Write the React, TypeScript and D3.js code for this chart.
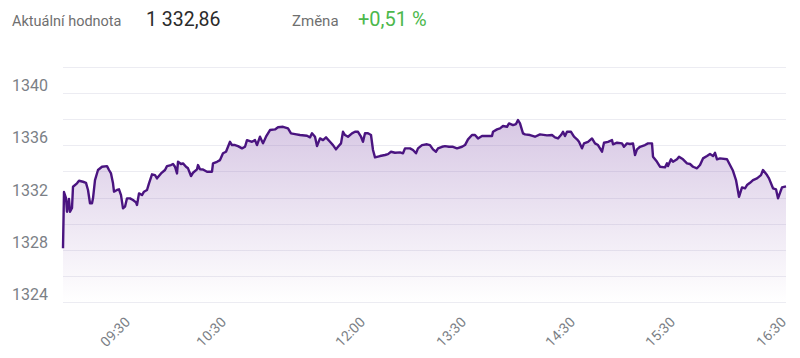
import React from "react";
import * as d3 from "d3";

// sequence index of trade sample (0..723) and index value
const seq: number[] = [
  0, 1, 3, 4, 6, 7, 9, 10, 14, 16, 20, 23, 25, 27, 29, 30, 32, 35, 39, 44, 46, 48, 50, 51, 54, 56, 58, 60, 62, 64, 67, 70, 73, 74, 76, 79, 81, 84, 86, 89, 92, 94, 98, 102, 104, 108, 110, 112, 114, 115, 118, 120, 123, 125, 128, 130, 134, 135, 137,
  140, 144, 149, 150, 154, 157, 160, 163, 167, 169, 172, 175, 179, 182, 184, 189, 192, 194, 197, 200, 203, 207, 212, 215, 220, 225, 228, 232, 237, 244, 247, 249, 252, 254, 257, 260, 263, 267, 270, 273, 275, 278, 280, 282, 285, 289, 292, 295, 298, 300, 302, 305, 308, 310, 312, 317, 322, 325, 328, 332, 337, 340, 342, 347, 350, 353, 355, 359, 364, 367, 370, 373, 375, 379, 382, 386, 390, 394, 399, 402, 405, 409, 412, 415, 419,
  429, 430, 434, 437, 440, 444, 446, 450, 453, 455, 457, 460, 462, 467, 472, 477, 484, 489, 492, 495, 498, 500, 502, 504, 508, 511, 514, 516, 519, 521, 525, 529, 532, 535, 539, 541, 545, 549, 550, 554, 559, 561, 564, 567, 570, 572, 574, 577, 582, 585, 589, 590, 594, 597, 602, 604, 605, 608, 610, 614, 616, 620, 624, 627, 630, 634, 637, 640, 644, 647, 650, 652, 654, 657, 664, 667, 670, 673, 676, 679, 682, 684, 687, 690, 694, 698, 700, 704, 706, 710, 713, 715, 719, 723,
];
const values: number[] = [
  1328.11, 1332.42, 1331.96, 1330.91, 1331.89, 1330.91, 1331.2, 1332.83, 1333.09, 1333.29, 1333.21, 1333.13, 1332.58, 1331.56, 1331.56, 1331.94, 1333.34, 1334.11, 1334.36, 1334.41, 1334.11, 1333.85, 1333.09, 1332.45, 1332.58, 1332.63, 1332.19, 1331.17, 1331.3, 1331.94, 1331.94, 1331.81, 1331.63, 1331.43, 1332.32, 1332.19, 1332.45, 1332.58, 1333.09, 1333.78, 1333.72, 1333.47, 1333.85, 1334.11, 1334.41, 1334.49, 1334.57, 1334.36, 1333.85, 1334.74, 1334.57, 1334.62, 1334.36, 1334.24, 1333.65, 1333.9, 1334.16, 1334.49, 1334.16,
  1334.15, 1333.98, 1333.98, 1334.62, 1334.74, 1334.87, 1335.39, 1335.51, 1336.27, 1336.02, 1336.02, 1335.94, 1335.77, 1335.89, 1336.4, 1336.27, 1336.4, 1336.02, 1336.66, 1336.15, 1336.66, 1337.17, 1337.22, 1337.38, 1337.42, 1337.3, 1336.92, 1336.86, 1336.79, 1336.73, 1336.61, 1336.92, 1336.66, 1335.94, 1336.53, 1336.4, 1336.61, 1336.27, 1336.02, 1335.69, 1335.89, 1336.15, 1337.04, 1336.79, 1336.66, 1336.92, 1337.04, 1337.04, 1336.66, 1336.27, 1336.92, 1336.92, 1336.79, 1335.64, 1335.08, 1335.18, 1335.26, 1335.33, 1335.51, 1335.43, 1335.46, 1335.39, 1335.77, 1335.77, 1335.64, 1335.39, 1335.77, 1336.02, 1336.08, 1336.02, 1335.69, 1335.51, 1335.77, 1335.89, 1335.94, 1335.89, 1335.89, 1335.77, 1335.89, 1336.02, 1336.46, 1336.79, 1336.79, 1336.53, 1336.71,
  1336.71, 1337.04, 1337.22, 1337.3, 1337.48, 1337.42, 1337.68, 1337.55, 1337.63, 1337.94, 1337.68, 1336.92, 1336.84, 1336.79, 1336.66, 1336.84, 1336.76, 1336.79, 1336.61, 1336.53, 1336.79, 1337.04, 1336.71, 1337.04, 1337.04, 1336.66, 1336.46, 1336.27, 1335.77, 1336.15, 1336.27, 1336.53, 1336.15, 1336.02, 1335.51, 1336.2, 1336.27, 1336.4, 1336.08, 1336.2, 1336.15, 1335.89, 1336.15, 1336.1, 1336.15, 1335.26, 1335.69, 1335.89, 1336.02, 1336.15, 1336.15, 1335.13, 1334.74, 1334.36, 1334.31, 1334.62, 1334.41, 1334.93, 1334.74, 1334.93, 1335.13, 1334.93, 1334.62, 1334.57, 1334.36, 1334.24, 1334.49, 1335.0, 1335.18, 1335.33, 1335.18, 1335.43, 1334.93, 1335.0, 1334.93, 1334.49, 1334.05, 1333.34, 1332.06, 1332.78, 1332.71, 1332.96, 1333.13, 1333.34, 1333.47, 1333.72, 1334.11, 1333.72, 1333.47, 1332.71, 1332.63, 1331.94, 1332.78, 1332.86,
];

const gridValues: number[] = [1324, 1326, 1328, 1330, 1332, 1334, 1336, 1338, 1340, 1342];
const yLabelValues: number[] = [1324, 1328, 1332, 1336, 1340];
const xTickSeq: number[] = [66, 162, 301, 402, 511, 611, 722];
const xTickLabels: string[] = ["09:30", "10:30", "12:00", "13:30", "14:30", "15:30", "16:30"];

const currentLabel = "Aktuální hodnota";
const currentValue = "1 332,86";
const changeLabel = "Změna";
const changeValue = "+0,51 %";

const W = 800;
const H = 358;
const M = { left: 63, right: 14, top: 67, bottom: 56 };

export default function App() {
  const x = d3.scaleLinear().domain([0, 723]).range([M.left, W - M.right]);
  const y = d3.scaleLinear().domain([1324, 1342]).range([H - M.bottom, M.top]);
  const pts = seq.map((s, i) => [s, values[i]] as [number, number]);
  const line = d3
    .line<[number, number]>()
    .x((d) => x(d[0]))
    .y((d) => y(d[1]));
  const area = d3
    .area<[number, number]>()
    .x((d) => x(d[0]))
    .y0(y(1324))
    .y1((d) => y(d[1]));
  const font = "Roboto, 'Noto Sans', sans-serif";
  return (
    <svg
      width={W}
      height={H}
      style={{ position: "absolute", left: 0, top: 0, background: "#fff" }}
      fontFamily={font}
    >
      <defs>
        <linearGradient id="fillGrad" x1="0" y1="0" x2="0" y2="1">
          <stop offset="0%" stopColor="#8a5cb0" stopOpacity={0.34} />
          <stop offset="100%" stopColor="#8a5cb0" stopOpacity={0.0} />
        </linearGradient>
      </defs>
      <text x={12} y={26} fontSize={14.5} fill="#6f6f6f">{currentLabel}</text>
      <text x={146} y={26} fontSize={19.5} fill="#2b2b2b">{currentValue}</text>
      <text x={292} y={26} fontSize={15} fill="#6f6f6f">{changeLabel}</text>
      <text x={358} y={26} fontSize={20} fill="#4cb84c">{changeValue}</text>

      {gridValues.map((v) => (
        <line
          key={v}
          x1={M.left}
          x2={W - M.right}
          y1={Math.round(y(v)) + 0.5}
          y2={Math.round(y(v)) + 0.5}
          stroke="#ececf2"
          strokeWidth={1}
        />
      ))}
      {yLabelValues.map((v) => (
        <text key={v} x={12} y={y(v) - 2} fontSize={16} fill="#7b7f86">
          {d3.format("d")(v)}
        </text>
      ))}
      <path d={area(pts) || ""} fill="url(#fillGrad)" />
      <path d={line(pts) || ""} fill="none" stroke="#4a1480" strokeWidth={2.4} strokeLinejoin="round" />
      {xTickSeq.map((s, i) => (
        <text
          key={s}
          transform={`translate(${x(s) + 2},${323}) rotate(-45)`}
          textAnchor="end"
          fontSize={14}
          fill="#7b7f86"
        >
          {xTickLabels[i]}
        </text>
      ))}
    </svg>
  );
}
